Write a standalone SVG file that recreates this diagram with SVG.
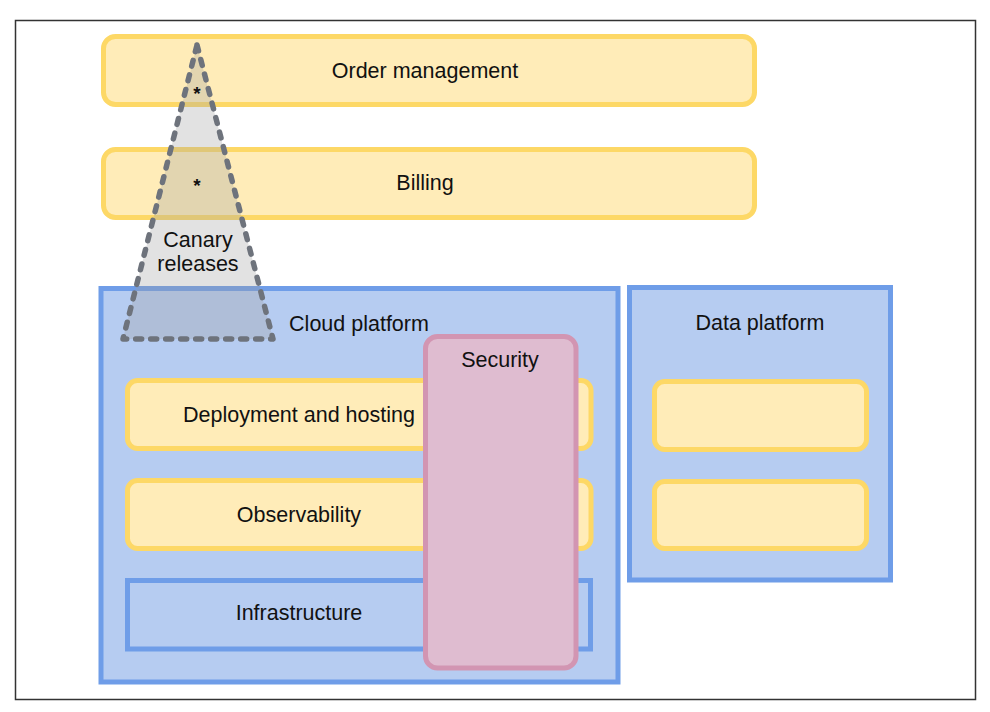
<svg xmlns="http://www.w3.org/2000/svg" width="990" height="712" viewBox="0 0 990 712">
<style>
.lbl{font-family:"Liberation Sans",Arial,sans-serif;font-size:21.5px;fill:#111;text-anchor:middle}
.yel{fill:#ffecb8;stroke:#fdd866;stroke-width:5}
.blu{fill:#b6ccf1;stroke:#6f9de8;stroke-width:5}
.sec{fill:#dfbcd0;stroke:#d295b2;stroke-width:5}
.tri{fill:#a0a0a0;fill-opacity:0.3;stroke:#6e737c;stroke-width:5.5;stroke-dasharray:6 9;stroke-linecap:round;stroke-linejoin:round}
.ast{font-family:"Liberation Sans",Arial,sans-serif;font-size:19px;font-weight:bold;fill:#111;text-anchor:middle}
</style>
<rect x="0" y="0" width="990" height="712" fill="#fff"/>
<rect id="frame" x="15.5" y="20.5" width="960" height="679" fill="none" stroke="#333" stroke-width="1.5"/>
<g id="order-management">
<rect class="yel" x="103.5" y="36.5" width="651" height="68" rx="12"/>
<text class="lbl" x="425" y="78">Order management</text>
</g>
<g id="billing">
<rect class="yel" x="103.5" y="149.5" width="651" height="68" rx="12"/>
<text class="lbl" x="425" y="190">Billing</text>
</g>
<g id="cloud-platform">
<rect class="blu" x="101" y="288.5" width="517" height="393.5"/>
<text class="lbl" x="359" y="331">Cloud platform</text>
</g>
<g id="deployment-and-hosting">
<rect class="yel" x="127.5" y="380.5" width="463.5" height="68" rx="10"/>
<text class="lbl" x="299" y="422">Deployment and hosting</text>
</g>
<g id="observability">
<rect class="yel" x="127.5" y="480.5" width="463.5" height="68" rx="10"/>
<text class="lbl" x="299" y="522">Observability</text>
</g>
<g id="infrastructure">
<rect class="blu" x="127.5" y="580.5" width="463" height="68.5"/>
<text class="lbl" x="299" y="620">Infrastructure</text>
</g>
<g id="data-platform">
<rect class="blu" x="629.5" y="287.5" width="261" height="292.5"/>
<text class="lbl" x="760" y="330">Data platform</text>
<rect class="yel" x="654.5" y="381.5" width="212" height="68" rx="10"/>
<rect class="yel" x="654.5" y="481.5" width="212" height="67" rx="10"/>
</g>
<g id="security">
<rect class="sec" x="425.5" y="336.5" width="150.5" height="331.5" rx="12"/>
<text class="lbl" x="500" y="367">Security</text>
</g>
<g id="canary-releases">
<polygon class="tri" points="197,45 273,339 123,339"/>
<text class="ast" x="197" y="100">*</text>
<text class="ast" x="197" y="192">*</text>
<text class="lbl" x="198" y="247">Canary</text>
<text class="lbl" x="198" y="271">releases</text>
</g>
<g id="connectors"/>
</svg>
